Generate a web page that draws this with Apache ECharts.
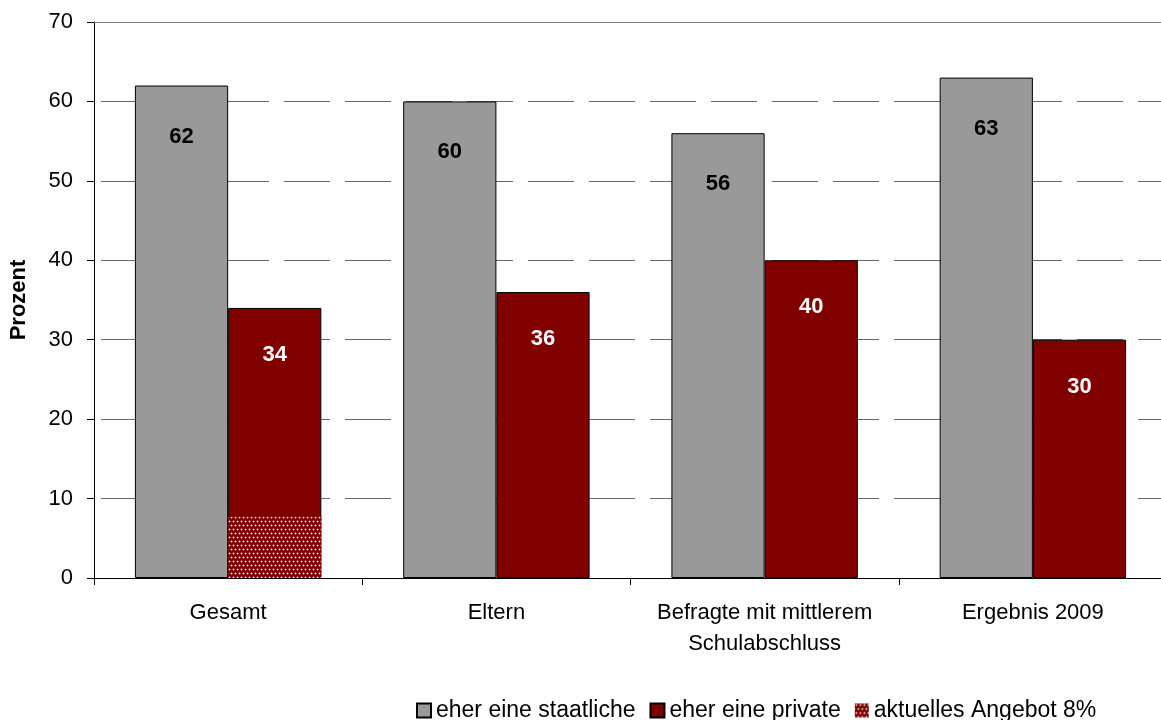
<!DOCTYPE html>
<html>
<head>
<meta charset="utf-8">
<script src="https://cdn.jsdelivr.net/npm/echarts@6/dist/echarts.min.js"></script>
<style>
html,body{margin:0;padding:0;background:#fff;overflow:hidden;width:1161px;height:720px;}
#chart{width:1167px;height:720px;}
</style>
</head>
<body>
<div id="chart"></div>
<script>
var categories = ['Gesamt', 'Eltern', 'Befragte mit mittlerem\nSchulabschluss', 'Ergebnis 2009'];
var staatlich = [62, 60, 56, 63];
var privat = [34, 36, 40, 30];
var angebot = [7.7, '-', '-', '-'];
var yTicks = [0, 10, 20, 30, 40, 50, 60, 70];

function makePattern() {
  var c = document.createElement('canvas');
  c.width = 4; c.height = 8;
  var g = c.getContext('2d');
  g.fillStyle = '#800000';
  g.fillRect(0, 0, 4, 8);
  var dots = [[1, 1], [3, 5]];
  dots.forEach(function (d) {
    g.fillStyle = 'rgba(255,255,255,0.35)';
    g.fillRect((d[0] + 3) % 4, d[1], 1, 1);
    g.fillRect((d[0] + 1) % 4, d[1], 1, 1);
    g.fillRect(d[0], d[1] - 1, 1, 1);
    g.fillRect(d[0], (d[1] + 1) % 8, 1, 1);
    g.fillStyle = '#ffffff';
    g.fillRect(d[0], d[1], 1, 1);
  });
  return c;
}

var FONT = '"Liberation Sans", Arial, sans-serif';
var chart = echarts.init(document.getElementById('chart'), null, {renderer: 'canvas'});
var pattern = {image: makePattern(), repeat: 'repeat'};
var GAP = '30.5%';

chart.setOption({
  animation: false,
  textStyle: {fontFamily: FONT},
  grid: {left: 93, right: 0, top: 22, bottom: 142, containLabel: false},
  legend: {
    data: ['eher eine staatliche', 'eher eine private', 'aktuelles Angebot 8%'],
    left: 411, top: 694,
    itemWidth: 14, itemHeight: 14, itemGap: 14,
    icon: 'rect',
    textStyle: {fontSize: 23, color: '#000', fontFamily: FONT}
  },
  xAxis: [{
    type: 'category',
    data: categories,
    axisLine: {lineStyle: {color: '#000', width: 1}},
    axisTick: {show: true, length: 7, interval: 0, lineStyle: {color: '#000'}},
    axisLabel: {fontSize: 22, color: '#000', margin: 19, lineHeight: 31, interval: 0, fontFamily: FONT},
    z: 10
  }, {
    type: 'category',
    data: categories,
    position: 'top',
    axisLine: {show: true, lineStyle: {color: '#808080', width: 1}},
    axisTick: {show: false},
    axisLabel: {show: false}
  }],
  yAxis: {
    type: 'value',
    min: yTicks[0], max: yTicks[yTicks.length - 1], interval: 10,
    name: 'Prozent',
    nameLocation: 'middle',
    nameGap: 64,
    nameRotate: 90,
    nameTextStyle: {fontSize: 22, fontWeight: 'bold', color: '#000', fontFamily: FONT},
    axisLine: {show: true, lineStyle: {color: '#000', width: 1}},
    axisTick: {show: true, length: 7, lineStyle: {color: '#000'}},
    axisLabel: {fontSize: 22, color: '#000', margin: 21, fontFamily: FONT},
    splitLine: {show: true, lineStyle: {color: '#6a6a6a', width: 1, type: [46, 15], dashOffset: 54}}
  },
  series: [{
    name: 'eher eine staatliche',
    type: 'bar',
    xAxisIndex: 0,
    data: staatlich,
    barGap: '0%',
    barCategoryGap: GAP,
    itemStyle: {color: '#999999', borderColor: '#000', borderWidth: 1},
    label: {show: true, position: 'insideTop', distance: 40, fontSize: 22, fontWeight: 'bold', color: '#000', fontFamily: FONT}
  }, {
    name: 'eher eine private',
    type: 'bar',
    xAxisIndex: 0,
    data: privat,
    barGap: '0%',
    barCategoryGap: GAP,
    itemStyle: {color: '#800000', borderColor: '#000', borderWidth: 1},
    label: {show: true, position: 'insideTop', distance: 36, fontSize: 22, fontWeight: 'bold', color: '#fff', fontFamily: FONT}
  }, {
    name: 'placeholder',
    type: 'bar',
    xAxisIndex: 1,
    data: ['-', '-', '-', '-'],
    barGap: '0%',
    barCategoryGap: GAP
  }, {
    name: 'aktuelles Angebot 8%',
    type: 'bar',
    xAxisIndex: 1,
    data: angebot,
    barGap: '0%',
    barCategoryGap: GAP,
    z: 3,
    itemStyle: {color: pattern, borderWidth: 0}
  }]
});
</script>
</body>
</html>
